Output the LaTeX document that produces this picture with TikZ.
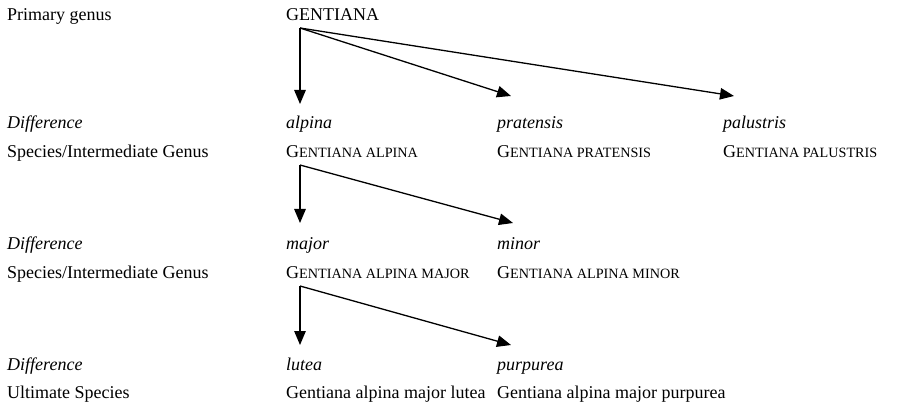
\documentclass[tikz,border=0pt]{standalone}
\usepackage{fontspec}
\setmainfont{Liberation Serif}
\usetikzlibrary{arrows.meta}
\newcommand\fsc[2]{#1{\fontsize{14.2pt}{15pt}\selectfont #2}}
\begin{document}
\begin{tikzpicture}[x=1pt,y=-1pt,
  lbl/.style={anchor=base west,inner sep=0pt,font=\fontsize{18pt}{20pt}\selectfont},
  dif/.style={lbl,font=\fontsize{18pt}{20pt}\selectfont\itshape},
  arr/.style={line width=1.3pt,-{Triangle[length=14pt,width=11.5pt]}}]
\useasboundingbox (0,0) rectangle (899,403);
% left column
\node[lbl] (l0) at (7,21) {Primary genus};
\node[dif] (l1) at (7,129) {Difference};
\node[lbl] (l2) at (7,158) {Species/Intermediate Genus};
\node[dif] (l3) at (7,250) {Difference};
\node[lbl] (l4) at (7,279) {Species/Intermediate Genus};
\node[dif] (l5) at (7,370) {Difference};
\node[lbl] (l6) at (7,398) {Ultimate Species};
% row 0
\node[lbl] (gen) at (286,21) {GENTIANA};
% row 1/2
\node[dif] (alpina) at (286,129) {alpina};
\node[dif] (pratensis) at (497,129) {pratensis};
\node[dif] (palustris) at (723,129) {palustris};
\node[lbl] (ga) at (286,158) {\fsc{G}{ENTIANA ALPINA}};
\node[lbl] (gpr) at (497,158) {\fsc{G}{ENTIANA PRATENSIS}};
\node[lbl] (gpa) at (723,158) {\fsc{G}{ENTIANA PALUSTRIS}};
% row 3/4
\node[dif] (major) at (286,250) {major};
\node[dif] (minor) at (497,250) {minor};
\node[lbl] (gam) at (286,279) {\fsc{G}{ENTIANA ALPINA MAJOR}};
\node[lbl] (gami) at (497,279) {\fsc{G}{ENTIANA ALPINA MINOR}};
% row 5/6
\node[dif] (lutea) at (286,370) {lutea};
\node[dif] (purpurea) at (497,370) {purpurea};
\node[lbl] (gaml) at (286,398) {Gentiana alpina major lutea};
\node[lbl] (gamp) at (497,398) {Gentiana alpina major purpurea};
% connector coordinates
\coordinate (o0) at (300,28);
\coordinate (t0a) at (300,104);
\coordinate (t0b) at (511,96);
\coordinate (t0c) at (734,96);
\coordinate (o1) at (300,165);
\coordinate (t1a) at (300,223);
\coordinate (t1b) at (513,223);
\coordinate (o2) at (300,286);
\coordinate (t2a) at (300,345);
\coordinate (t2b) at (511,345);
\draw[arr] (o0) -- (t0a);
\draw[arr] (o0) -- (t0b);
\draw[arr] (o0) -- (t0c);
\draw[arr] (o1) -- (t1a);
\draw[arr] (o1) -- (t1b);
\draw[arr] (o2) -- (t2a);
\draw[arr] (o2) -- (t2b);
\end{tikzpicture}
\end{document}
